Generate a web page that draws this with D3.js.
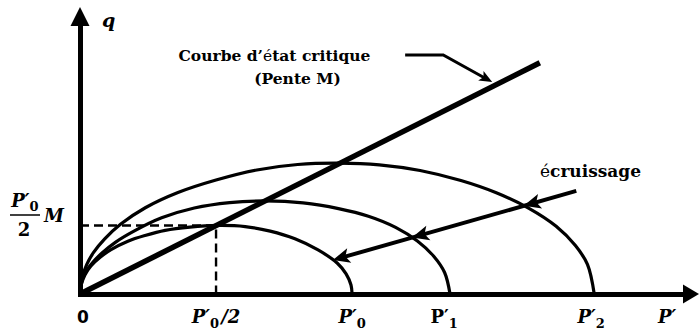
<!DOCTYPE html>
<html>
<head>
<meta charset="utf-8">
<script src="https://cdn.jsdelivr.net/npm/d3@7"></script>
<style>
  html, body { margin: 0; padding: 0; background: #fff; }
  svg { display: block; }
  text { fill: #000; }
</style>
</head>
<body>
<svg id="chart" width="699" height="332"></svg>
<script>
// Preconsolidation pressures of the three yield surfaces (P'0 < P'1 < P'2)
const preconsolidation = [100, 136, 189];

// Yield surfaces in the (p', q) plane, one list of points per surface
const surfaceP0 = [[0,0],[0.55,3.7],[1.8,7.0],[4,10.3],[7.4,13.5],[11.4,16.3],[17.6,19.4],
  [23.9,21.5],[31.3,23.4],[40.4,24.6],[50.7,25.2],[60.7,24.8],[69.9,23.1],[79,20.3],
  [87.5,16.2],[94.5,11.4],[97.8,7.4],[99.6,3.3],[100,0]];
const surfaceP1 = [[0,0],[0.7,4.7],[2,8.0],[4.5,11.4],[8,15.0],[13,19.0],[20,23.2],
  [30,28.0],[42,31.6],[55,33.6],[68,34.2],[82,33.5],[95,31.4],[106,28.6],[116,24.5],
  [124,19.5],[130,13.9],[134,7.9],[136,0]];
const surfaceP2 = [[0,0],[0.8,6.2],[2.5,10.9],[5,15.3],[9,20.2],[15,25.7],[24,31.7],
  [36,37.3],[50,41.9],[65,45.6],[80,47.6],[95,48.1],[110,47.5],[125,45.4],[140,41.7],
  [153,37.2],[165,31.5],[175,24.9],[182,17.9],[186.5,10.9],[189,0]];
const surfaces = [surfaceP0, surfaceP1, surfaceP2];

// Critical state line (slope M) and the top of the first yield surface
const criticalStateLine = [[0,0],[169,85]];
const peakP0 = [50, 25.2];

// Hardening (écrouissage) direction and the leader to the critical state line
const hardeningPath = [[182.4,37.9],[92,12.2]];
const cslLeader = [[119.5,87.9],[133.5,87.9],[151.5,77.9]];

// Tick labels on the p' axis: [main text, subscript, suffix, italic]
const xTickValues = [0, 50, 100, 136, 189];
const xTickLabels = [
  ["0", "", "", false],
  ["P\u2032", "0", "/2", true],
  ["P\u2032", "0", "", true],
  ["P\u2032", "1", "", false],
  ["P\u2032", "2", "", true]
];

const pMax = 227.5, qMax = 105.5;

const svg = d3.select("#chart");
const x = d3.scaleLinear().domain([0, pMax]).range([80, 699]);
const y = d3.scaleLinear().domain([0, qMax]).range([294, 7]);

const serif = "'DejaVu Serif', 'Liberation Serif', serif";

// ---- yield surfaces ----
const curveGen = d3.line()
  .x(d => x(d[0])).y(d => y(d[1]))
  .curve(d3.curveCatmullRom.alpha(0.5));

svg.append("g").selectAll("path")
  .data(surfaces)
  .join("path")
  .attr("d", curveGen)
  .attr("fill", "none")
  .attr("stroke", "#000")
  .attr("stroke-width", 3.2);

// ---- dashed guides at (P'0/2, M P'0/2) ----
svg.append("path")
  .attr("d", `M${x(0)},${y(peakP0[1])}H${x(peakP0[0])}V${y(0)}`)
  .attr("fill", "none")
  .attr("stroke", "#000")
  .attr("stroke-width", 2.4)
  .attr("stroke-dasharray", "9,5");

// ---- critical state line ----
svg.append("path")
  .attr("d", d3.line().x(d => x(d[0])).y(d => y(d[1]))(criticalStateLine))
  .attr("stroke", "#000")
  .attr("stroke-width", 5.5)
  .attr("fill", "none");

// ---- helpers ----
function arrowHead(tip, angle, len, halfW, notch) {
  const path = `M0,0L${-len},${-halfW}L${-len + notch},0L${-len},${halfW}Z`;
  svg.append("path")
    .attr("d", path)
    .attr("fill", "#000")
    .attr("transform", `translate(${tip[0]},${tip[1]}) rotate(${angle * 180 / Math.PI})`);
}

function curveQ(curve, p) {
  for (let i = 0; i < curve.length - 1; i++) {
    const a = curve[i], b = curve[i + 1];
    if (p >= a[0] && p <= b[0]) {
      const t = (p - a[0]) / (b[0] - a[0] || 1);
      return a[1] + t * (b[1] - a[1]);
    }
  }
  return -Infinity;
}

// where the hardening path first meets each yield surface
const [hs, he] = hardeningPath;
const hSlope = (hs[1] - he[1]) / (hs[0] - he[0]);
const lineQ = p => hs[1] + hSlope * (p - hs[0]);
const hits = surfaces.map(c => {
  for (let p = hs[0]; p > 0; p -= 0.02) {
    if (lineQ(p) <= curveQ(c, p)) return [p, lineQ(p)];
  }
  return he;
});

// ---- hardening arrow ----
const hitPx = hits.map(d => [x(d[0]), y(d[1])]);
const startPx = [x(hs[0]), y(hs[1])];
const endPx = hitPx[0];
const hAngle = Math.atan2(endPx[1] - startPx[1], endPx[0] - startPx[0]);
svg.append("line")
  .attr("x1", startPx[0]).attr("y1", startPx[1])
  .attr("x2", endPx[0] - 8 * Math.cos(hAngle)).attr("y2", endPx[1] - 8 * Math.sin(hAngle))
  .attr("stroke", "#000").attr("stroke-width", 4);
hitPx.forEach(pt => arrowHead(pt, hAngle, 17, 7.5, 4));

// ---- leader to the critical state line ----
const leaderPx = cslLeader.map(d => [x(d[0]), y(d[1])]);
const la = leaderPx[leaderPx.length - 2], lb = leaderPx[leaderPx.length - 1];
const lAngle = Math.atan2(lb[1] - la[1], lb[0] - la[0]);
const leaderDraw = leaderPx.slice();
leaderDraw[leaderDraw.length - 1] = [lb[0] - 8 * Math.cos(lAngle), lb[1] - 8 * Math.sin(lAngle)];
svg.append("path")
  .attr("d", d3.line()(leaderDraw))
  .attr("fill", "none").attr("stroke", "#000").attr("stroke-width", 3)
  .attr("stroke-linejoin", "miter");
arrowHead(lb, lAngle, 13, 5.5, 3);

// ---- axes ----
const xAxisG = svg.append("g").attr("transform", `translate(0,${y(0)})`)
  .call(d3.axisBottom(x.copy().range([x(0) - 2.5, x(pMax) - 12])).tickValues([]).tickSizeOuter(0));
xAxisG.select(".domain").attr("stroke", "#000").attr("stroke-width", 5);
const yAxisG = svg.append("g").attr("transform", `translate(${x(0)},0)`)
  .call(d3.axisLeft(y.copy().range([y(0) + 2.5, y(qMax) + 12])).tickValues([]).tickSizeOuter(0));
yAxisG.select(".domain").attr("stroke", "#000").attr("stroke-width", 5);

// axis arrowheads
svg.append("path")
  .attr("d", `M${x(pMax)},${y(0)}L${x(pMax) - 16},${y(0) - 9.5}L${x(pMax) - 16},${y(0) + 9.5}Z`)
  .attr("fill", "#000");
svg.append("path")
  .attr("d", `M${x(0)},${y(qMax)}L${x(0) - 9.5},${y(qMax) + 19}L${x(0) + 9.5},${y(qMax) + 19}Z`)
  .attr("fill", "#000");

// ---- tick labels on p' ----
const tickG = svg.append("g");
xTickValues.forEach((v, i) => {
  const [main, sub, suffix, italic] = xTickLabels[i];
  const t = tickG.append("text")
    .attr("x", x(v) + (i === 0 ? 3 : (i === 3 ? -6 : (i === 4 ? -3 : 0))))
    .attr("y", 323)
    .attr("text-anchor", "middle")
    .attr("font-weight", "bold");
  if (i === 0) {
    t.attr("font-family", "'DejaVu Sans', sans-serif").attr("font-size", 17).text(main);
    return;
  }
  t.attr("font-family", serif).attr("font-size", 18)
    .attr("font-style", italic ? "italic" : "normal");
  t.append("tspan").text(main);
  t.append("tspan").attr("dy", 5).attr("font-size", 13).attr("font-style", "normal").text(sub);
  if (suffix) t.append("tspan").attr("dy", -5).attr("dx", 2).text(suffix);
});

// axis titles
svg.append("text")
  .attr("x", 658).attr("y", 323)
  .attr("font-family", serif).attr("font-size", 18)
  .attr("font-weight", "bold").attr("font-style", "italic")
  .text("P\u2032");
svg.append("text")
  .attr("x", 102).attr("y", 27)
  .attr("font-family", serif).attr("font-size", 19)
  .attr("font-weight", "bold").attr("font-style", "italic")
  .text("q");

// ---- q-axis label: (P'0 / 2) M ----
const fracG = svg.append("g")
  .attr("font-family", serif).attr("font-weight", "bold").attr("font-size", 18);
const num = fracG.append("text").attr("x", 25).attr("y", 207)
  .attr("text-anchor", "middle").attr("font-style", "italic");
num.append("tspan").text("P\u2032");
num.append("tspan").attr("dy", 4).attr("font-size", 13).attr("font-style", "normal").text("0");
fracG.append("line")
  .attr("x1", 10).attr("x2", 40).attr("y1", 215).attr("y2", 215)
  .attr("stroke", "#000").attr("stroke-width", 1.5);
fracG.append("text").attr("x", 24).attr("y", 236)
  .attr("text-anchor", "middle").text("2");
fracG.append("text").attr("x", 44).attr("y", 222)
  .attr("font-style", "italic").text("M");

// ---- annotations ----
const noteG = svg.append("g")
  .attr("font-family", serif).attr("font-weight", "bold");
const t1 = noteG.append("text")
  .attr("x", 274.5).attr("y", 61).attr("text-anchor", "middle").attr("font-size", 15.5);
t1.append("tspan").text("Courbe d\u2019");
t1.append("tspan").attr("font-weight", "normal").text("\u00e9");
t1.append("tspan").text("tat critique");
noteG.append("text")
  .attr("x", 297.5).attr("y", 84).attr("text-anchor", "middle").attr("font-size", 15.5)
  .text("(Pente M)");
const t3 = noteG.append("text")
  .attr("x", 540).attr("y", 177).attr("font-size", 17);
t3.append("tspan").attr("font-weight", "normal").text("\u00e9");
t3.append("tspan").text("cruissage");
</script>
</body>
</html>
